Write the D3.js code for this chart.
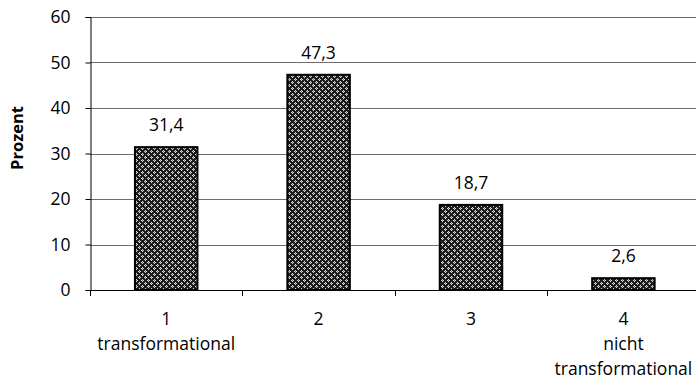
<!DOCTYPE html>
<meta charset="utf-8">
<style>
body { margin: 0; background: #fff; }
svg { display: block; }
text { font-family: "Open Sans", sans-serif; fill: #000; }
</style>
<body>
<svg id="chart" width="696" height="381"></svg>
<script src="https://cdn.jsdelivr.net/npm/d3@7"></script>
<script>

// data
var categories = ["1", "2", "3", "4"];
var catLabels = [["1", "transformational"], ["2"], ["3"], ["4", "nicht", "transformational"]];
var values = [31.4, 47.3, 18.7, 2.6];
var yTicks = [0, 10, 20, 30, 40, 50, 60];

var plotLeft = 90, plotRight = 699.6, plotTop = 17, plotBottom = 290;
var fontSize = 17.5;

var svg = d3.select("#chart");

var x = d3.scaleBand()
  .domain(categories)
  .range([plotLeft, plotRight])
  .paddingInner(0.59)
  .paddingOuter(0.295);

var y = d3.scaleLinear()
  .domain([0, 60])
  .range([plotBottom, plotTop]);

// fill pattern of the bars
var pat = svg.append("defs").append("pattern")
  .attr("id", "weave")
  .attr("width", 6).attr("height", 6)
  .attr("patternUnits", "userSpaceOnUse");
pat.append("rect").attr("width", 6).attr("height", 6).attr("fill", "#1c1c1c");
[[1, 0, 1, 3], [0, 1, 3, 1], [4, 3, 1, 3], [3, 4, 3, 1]].forEach(function(r) {
  pat.append("rect")
    .attr("x", r[0]).attr("y", r[1]).attr("width", r[2]).attr("height", r[3])
    .attr("fill", "#d8d8d8");
});
pat.append("rect").attr("x", 1).attr("y", 1).attr("width", 1).attr("height", 1).attr("fill", "#777");
pat.append("rect").attr("x", 4).attr("y", 4).attr("width", 1).attr("height", 1).attr("fill", "#777");

// gridlines
svg.append("g").selectAll("line")
  .data(yTicks.filter(function(d) { return d > 0; }))
  .enter().append("line")
  .attr("x1", plotLeft).attr("x2", 696)
  .attr("y1", function(d) { return Math.round(y(d)) + 0.5; })
  .attr("y2", function(d) { return Math.round(y(d)) + 0.5; })
  .attr("stroke", "#6e6e6e")
  .attr("stroke-width", 1);

// y axis
var yAxis = svg.append("g")
  .attr("transform", "translate(" + (plotLeft + 0.5) + ",0)")
  .call(d3.axisLeft(y).tickValues(yTicks).tickSize(5).tickPadding(15).tickFormat(d3.format("d")));
yAxis.select(".domain").attr("stroke", "#000");
yAxis.selectAll(".tick line").attr("stroke", "#000");
yAxis.selectAll(".tick text")
  .style("font-family", "'Open Sans', sans-serif")
  .attr("font-size", fontSize)
  .attr("fill", "#000");

svg.append("text")
  .attr("transform", "translate(23,138) rotate(-90)")
  .attr("text-anchor", "middle")
  .attr("font-size", 16.5)
  .attr("font-weight", "bold")
  .text("Prozent");

// bars
svg.append("g").selectAll("rect")
  .data(values)
  .enter().append("rect")
  .attr("x", function(d, i) { return x(categories[i]); })
  .attr("y", function(d) { return y(d); })
  .attr("width", x.bandwidth())
  .attr("height", function(d) { return y(0) - y(d); })
  .attr("fill", "url(#weave)")
  .attr("stroke", "#000")
  .attr("stroke-width", 2);

// value labels
svg.append("g").selectAll("text")
  .data(values)
  .enter().append("text")
  .attr("x", function(d, i) { return x(categories[i]) + x.bandwidth() / 2; })
  .attr("y", function(d) { return y(d) - 16; })
  .attr("text-anchor", "middle")
  .attr("font-size", fontSize)
  .text(function(d) { return d3.format(".1f")(d).replace(".", ","); });

// x axis line and tick marks at band edges
svg.append("line")
  .attr("x1", plotLeft).attr("x2", 696)
  .attr("y1", plotBottom + 0.5).attr("y2", plotBottom + 0.5)
  .attr("stroke", "#000");
svg.append("g").selectAll("line")
  .data(d3.range(categories.length + 1))
  .enter().append("line")
  .attr("x1", function(i) { return Math.round(plotLeft + i * x.step()) + 0.5; })
  .attr("x2", function(i) { return Math.round(plotLeft + i * x.step()) + 0.5; })
  .attr("y1", plotBottom).attr("y2", plotBottom + 6)
  .attr("stroke", "#000");

// category labels
var cat = svg.append("g").selectAll("text")
  .data(catLabels)
  .enter().append("text")
  .attr("text-anchor", "middle")
  .attr("font-size", fontSize)
  .attr("transform", function(d, i) { return "translate(" + (x(categories[i]) + x.bandwidth() / 2) + ",325)"; });
cat.selectAll("tspan")
  .data(function(d) { return d; })
  .enter().append("tspan")
  .attr("x", 0)
  .attr("y", function(d, j) { return j * 25; })
  .text(function(d) { return d; });

</script>
</body>
